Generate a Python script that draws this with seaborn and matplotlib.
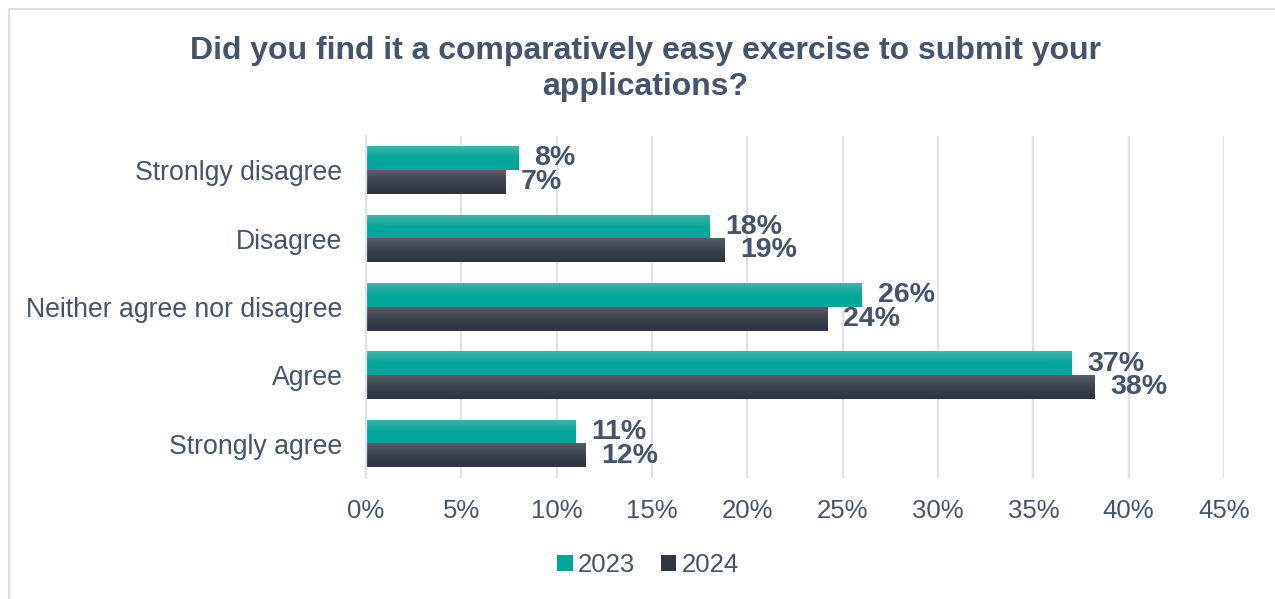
import numpy as np
import pandas as pd
import matplotlib
matplotlib.use("Agg")
import matplotlib.pyplot as plt
import matplotlib.colors as mcolors
from matplotlib.patches import Patch
from matplotlib.lines import Line2D
import seaborn as sns

# Data
responses = ["Stronlgy disagree", "Disagree", "Neither agree nor disagree", "Agree", "Strongly agree"]
years = ["2023", "2024"]
values_2023 = [8.0, 18.0, 26.0, 37.0, 11.0]
values_2024 = [7.3, 18.8, 24.2, 38.2, 11.5]
x_ticks = [0, 5, 10, 15, 20, 25, 30, 35, 40, 45]

title = "Did you find it a comparatively easy exercise to submit your\napplications?"

text_color = "#44546A"
grid_color = "#DFE2E7"
teal = "#00A69C"
dark = "#2E3745"
# top -> bottom colours for the gradient fill
gradients = {
    "2023": ("#45B2AA", "#00A69C", "#00A59B"),
    "2024": ("#575D67", "#3A4250", "#2A3340"),
}

df = pd.DataFrame({
    "response": responses * 2,
    "year": [years[0]] * len(responses) + [years[1]] * len(responses),
    "value": values_2023 + values_2024,
})

sns.set_theme(style="white")
plt.rcParams["font.family"] = ["Liberation Sans", "DejaVu Sans"]

fig = plt.figure(figsize=(12.75, 5.99), dpi=100)
ax = fig.add_axes([366 / 1275, 1 - 478 / 599, (1224 - 366) / 1275, (478 - 136) / 599])

sns.barplot(data=df, x="value", y="response", hue="year", order=responses,
            hue_order=years, palette=[teal, dark], width=0.69, orient="h",
            saturation=1, legend=False, ax=ax)

ax.set_xlim(0, 45)
ax.set_ylim(len(responses) - 0.5, -0.5)
ax.set_xticks(x_ticks)
ax.set_xticklabels([f"{t}%" for t in x_ticks])
ax.set_xlabel("")
ax.set_ylabel("")
ax.grid(axis="x", color=grid_color, linewidth=1.6)
ax.set_axisbelow(True)
for side in ["top", "right", "bottom"]:
    ax.spines[side].set_visible(False)
ax.spines["left"].set_color(grid_color)
ax.spines["left"].set_linewidth(1.6)
ax.tick_params(axis="x", labelsize=18.5, colors=text_color, length=0, pad=15)
ax.tick_params(axis="y", labelsize=19.2, colors=text_color, length=0, pad=17)

# gradient fill on each bar
for container, year in zip(ax.containers, years):
    cmap = mcolors.LinearSegmentedColormap.from_list(year, gradients[year])
    grad = np.linspace(0, 1, 64).reshape(-1, 1)
    for bar in container:
        x0, y0 = bar.get_x(), bar.get_y()
        w, h = bar.get_width(), bar.get_height()
        bar.set_facecolor("none")
        bar.set_edgecolor("none")
        ax.imshow(grad, cmap=cmap, aspect="auto", interpolation="bilinear",
                  extent=[x0, x0 + w, y0 + h, y0], zorder=2)
    ax.bar_label(container, labels=[f"{v:.0f}%" for v in container.datavalues],
                 padding=11.5, fontsize=20.5, fontweight="bold", color=text_color)

ax.set_xlim(0, 45)
ax.set_ylim(len(responses) - 0.5, -0.5)

handles = [Patch(facecolor=teal, edgecolor="none"), Patch(facecolor=dark, edgecolor="none")]
fig.legend(handles, years, loc="center", bbox_to_anchor=(648 / 1275, 1 - 565 / 599),
           ncol=2, frameon=False, fontsize=18.5, labelcolor=text_color,
           handlelength=0.6, handleheight=0.6, handletextpad=0.2, columnspacing=1.0)

fig.text(645 / 1275, 1 - 36 / 599, title, ha="center", va="top", fontsize=23,
         fontweight="bold", color=text_color, linespacing=1.28)

# chart frame (top and left edges visible)
fig.add_artist(Line2D([8.5 / 1275, 1], [1 - 8.5 / 599, 1 - 8.5 / 599], color="#DCE0E6", lw=1.5))
fig.add_artist(Line2D([8.5 / 1275, 8.5 / 1275], [0, 1 - 8.5 / 599], color="#DCE0E6", lw=1.5))

fig.savefig("out.png", dpi=100, facecolor="white")
